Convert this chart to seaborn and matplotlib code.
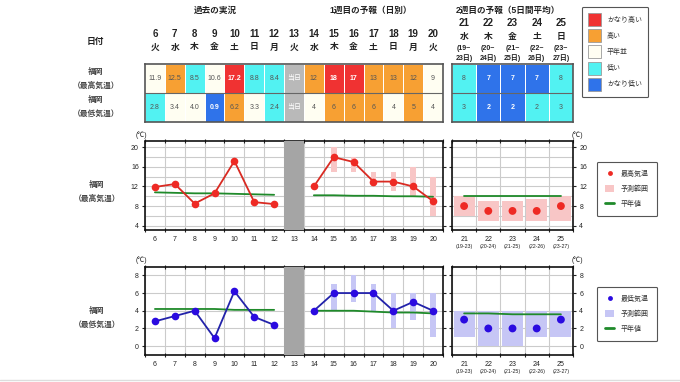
import matplotlib
matplotlib.use("Agg")
import matplotlib.pyplot as plt
import matplotlib.transforms as mtrans
import numpy as np
import pandas as pd
import seaborn as sns
from matplotlib.colors import ListedColormap
from matplotlib.lines import Line2D
from matplotlib.patches import Patch
from matplotlib.ticker import FixedLocator, MultipleLocator

sns.set_theme(style="white")
plt.rcParams["font.family"] = ["Liberation Sans", "Noto Sans CJK JP", "DejaVu Sans"]

# ---- data ----
past_days = [6, 7, 8, 9, 10, 11, 12]
week1_days = [14, 15, 16, 17, 18, 19, 20]
week2_days = [21, 22, 23, 24, 25]
table_days = list(range(6, 21))
weekdays = ["火", "水", "木", "金", "土", "日", "月", "火", "水", "木", "金", "土", "日", "月", "火"]
week2_weekdays = ["水", "木", "金", "土", "日"]
week2_from = [19, 20, 21, 22, 23]
week2_to = [23, 24, 25, 26, 27]

past_hi = [11.9, 12.5, 8.5, 10.6, 17.2, 8.8, 8.4]
week1_hi = [12, 18, 17, 13, 13, 12, 9]
week1_hi_min = [np.nan, 15, 15, 12, 11, 10, 6]
week1_hi_max = [np.nan, 20, 18, 15, 15, 16, 14]
week2_hi = [8, 7, 7, 7, 8]
week2_hi_min = [6, 5, 5, 5, 5]
week2_hi_max = [10, 9, 9, 9.5, 10]
past_hi_norm = [10.8, 10.7, 10.6, 10.6, 10.5, 10.4, 10.3]
week1_hi_norm = [10.2, 10.2, 10.1, 10.1, 10.0, 10.0, 9.9]
week2_hi_norm = [10.0, 10.0, 10.0, 10.0, 10.0]

past_lo = [2.8, 3.4, 4.0, 0.9, 6.2, 3.3, 2.4]
week1_lo = [4, 6, 6, 6, 4, 5, 4]
week1_lo_min = [np.nan, 4, 5, 4, 2, 3, 1]
week1_lo_max = [np.nan, 7, 8, 7, 6, 6, 6]
week2_lo = [3, 2, 2, 2, 3]
week2_lo_min = [1, 0, 0, 1, 1]
week2_lo_max = [4, 4, 4, 4, 4]
past_lo_norm = [4.2, 4.2, 4.2, 4.2, 4.1, 4.1, 4.1]
week1_lo_norm = [4.0, 4.0, 4.0, 3.9, 3.8, 3.8, 3.7]
week2_lo_norm = [3.7, 3.7, 3.6, 3.6, 3.6]

# table classes: 0 かなり高い, 1 高い, 2 平年並, 3 低い, 4 かなり低い, 5 当日
class_names = ["かなり高い", "高い", "平年並", "低い", "かなり低い"]
class_colors = ["#f03232", "#f7a033", "#fffef2", "#52f2f2", "#2f73ea", "#b9b9b9"]
hi_class = [2, 1, 3, 2, 0, 3, 3, 5, 1, 0, 0, 1, 1, 1, 2]
lo_class = [3, 2, 2, 4, 1, 2, 3, 5, 2, 1, 1, 1, 2, 1, 2]
week2_hi_class = [3, 4, 4, 4, 3]
week2_lo_class = [3, 4, 4, 3, 3]

W, H = 680, 382
fig = plt.figure(figsize=(W / 100, H / 100), dpi=100)


def rect(l, t, r, b):
    return [l / W, 1 - b / H, (r - l) / W, (b - t) / H]


def fy(py):
    return 1 - py / H


GREEN = "#1f8a2a"
GRID = "#cbcbcb"

ax_t1 = fig.add_axes(rect(145, 64, 443, 122))
ax_t2 = fig.add_axes(rect(452, 64, 573, 122))
ax_h1 = fig.add_axes(rect(145, 141.5, 443, 230))
ax_h2 = fig.add_axes(rect(452, 141.5, 573, 230))
ax_l1 = fig.add_axes(rect(145, 266.5, 443, 355))
ax_l2 = fig.add_axes(rect(452, 266.5, 573, 355))

# ---- table ----
cmap = ListedColormap(class_colors)
t1_labels = np.array([
    [f"{v:.1f}" for v in past_hi] + ["当日"] + [str(v) for v in week1_hi],
    [f"{v:.1f}" for v in past_lo] + ["当日"] + [str(v) for v in week1_lo],
])
t2_labels = np.array([[str(v) for v in week2_hi], [str(v) for v in week2_lo]])
for ax, codes, labels in [(ax_t1, np.array([hi_class, lo_class]), t1_labels),
                          (ax_t2, np.array([week2_hi_class, week2_lo_class]), t2_labels)]:
    sns.heatmap(codes, ax=ax, cmap=cmap, vmin=-0.5, vmax=5.5, cbar=False,
                annot=labels, fmt="", annot_kws={"fontsize": 5},
                linewidths=0.5, linecolor="white",
                xticklabels=False, yticklabels=False)
    for txt, c in zip(ax.texts, codes.flat):
        if c in (0, 4):
            txt.set_color("white")
            txt.set_fontweight("bold")
        elif c == 5:
            txt.set_color("white")
        else:
            txt.set_color("#555555")
    ax.axhline(1, color="#666666", lw=0.8)
    for s in ax.spines.values():
        s.set_visible(True)
        s.set_color("#555555")
        s.set_linewidth(1.2)

# ---- charts ----
def style_axes(ax, days, xlim, ylim, major, minor, left_labels):
    ax.set_xlim(*xlim)
    ax.set_ylim(*ylim)
    ax.xaxis.set_major_locator(FixedLocator(days))
    ax.set_xticklabels([str(d) for d in days])
    ax.xaxis.set_minor_locator(FixedLocator(np.arange(xlim[0], xlim[1] + 0.1, 1.0)))
    ax.yaxis.set_major_locator(MultipleLocator(major))
    if minor:
        ax.yaxis.set_minor_locator(MultipleLocator(minor))
        ax.grid(True, which="minor", axis="y", color=GRID, lw=0.8)
    ax.grid(True, which="major", axis="y", color=GRID, lw=0.8)
    ax.grid(True, which="minor", axis="x", color=GRID, lw=0.8)
    ax.grid(False, which="major", axis="x")
    ax.tick_params(axis="x", which="major", length=0, pad=4, labelsize=5, colors="#222222")
    ax.tick_params(axis="x", which="minor", length=3, direction="inout",
                   top=True, bottom=True, color="#222222", width=0.8)
    ax.tick_params(axis="y", which="major", length=2.5, direction="out", left=True,
                   right=True, labelleft=left_labels, labelright=not left_labels,
                   labelsize=5, width=0.8, color="#222222", pad=2)
    ax.tick_params(axis="y", which="minor", length=0)
    for s in ax.spines.values():
        s.set_color("#111111")
        s.set_linewidth(1.2)
    ax.set_xlabel("")
    ax.set_ylabel("")


def draw_panel(ax1, ax2, past, norm_p, w1, w1_min, w1_max, norm_1, w2, w2_min, w2_max,
               norm_2, dot, line, band, ylim, major, minor):
    ax1.axvspan(12.5, 13.5, color="#a5a5a5", lw=0, zorder=3)
    rng = pd.DataFrame({"day": week1_days, "lo": w1_min, "hi": w1_max}).dropna()
    ax1.bar(rng["day"], rng["hi"] - rng["lo"], bottom=rng["lo"], width=0.28,
            color=band, lw=0, zorder=2)
    sns.lineplot(x=past_days, y=norm_p, ax=ax1, color=GREEN, lw=1.3, zorder=4)
    sns.lineplot(x=week1_days, y=norm_1, ax=ax1, color=GREEN, lw=1.3, zorder=4)
    for days, vals in [(past_days, past), (week1_days, w1)]:
        sns.lineplot(x=days, y=vals, ax=ax1, color=line, lw=1.3, marker="o",
                     markersize=5.5, markerfacecolor=dot, markeredgewidth=0, zorder=5)
    ax2.bar(week2_days, np.array(w2_max) - np.array(w2_min), bottom=w2_min,
            width=0.86, color=band, lw=0, zorder=2)
    sns.lineplot(x=week2_days, y=norm_2, ax=ax2, color=GREEN, lw=1.3, zorder=4)
    sns.scatterplot(x=week2_days, y=w2, ax=ax2, color=dot, s=32, edgecolor="none", zorder=5)
    style_axes(ax1, table_days, (5.5, 20.5), ylim, major, minor, True)
    style_axes(ax2, week2_days, (20.5, 25.5), ylim, major, minor, False)
    for d, a, b in zip(week2_days, week2_from, week2_to):
        ax2.text(d, -0.19, f"({a}-{b})", transform=ax2.get_xaxis_transform(),
                 ha="center", va="center", fontsize=3.8, color="#222222")


draw_panel(ax_h1, ax_h2, past_hi, past_hi_norm, week1_hi, week1_hi_min, week1_hi_max,
           week1_hi_norm, week2_hi, week2_hi_min, week2_hi_max, week2_hi_norm,
           "#ee2a24", "#d92a22", "#f8c6c6", (3.1, 21.2), 4, 2)
draw_panel(ax_l1, ax_l2, past_lo, past_lo_norm, week1_lo, week1_lo_min, week1_lo_max,
           week1_lo_norm, week2_lo, week2_lo_min, week2_lo_max, week2_lo_norm,
           "#2a0ae0", "#2222aa", "#c6c6f5", (-1, 9), 2, None)

# ---- headers ----
tr = mtrans.blended_transform_factory(ax_h1.transData, fig.transFigure)
tr2 = mtrans.blended_transform_factory(ax_h2.transData, fig.transFigure)
hdr = dict(ha="center", va="center", fontweight="bold", color="#222222")
for d, w in zip(table_days, weekdays):
    fig.text(d, fy(34), str(d), transform=tr, fontsize=7, **hdr)
    fig.text(d, fy(47), w, transform=tr, fontsize=6.3, **hdr)
for d, w, a, b in zip(week2_days, week2_weekdays, week2_from, week2_to):
    fig.text(d, fy(23), str(d), transform=tr2, fontsize=7, **hdr)
    fig.text(d, fy(36), w, transform=tr2, fontsize=6.3, **hdr)
    fig.text(d, fy(48), f"({a}~", transform=tr2, fontsize=5, **hdr)
    fig.text(d, fy(58), f"{b}日)", transform=tr2, fontsize=5, **hdr)

fig.text(215 / W, fy(10), "過去の実況", fontsize=6.2, **hdr)
fig.text(371 / W, fy(10), "1週目の予報（日別）", fontsize=6.2, **hdr)
fig.text(508 / W, fy(10), "2週目の予報（5日間平均）", fontsize=6.2, **hdr)
fig.text(95 / W, fy(41), "日付", fontsize=6.3, **hdr)

lab = dict(ha="center", va="center", fontsize=5.6, fontweight="bold", color="#444444")
fig.text(96 / W, fy(72), "福岡", **lab)
fig.text(96 / W, fy(86), "（最高気温）", **lab)
fig.text(96 / W, fy(100), "福岡", **lab)
fig.text(96 / W, fy(114), "（最低気温）", **lab)
fig.text(97 / W, fy(185), "福岡", **lab)
fig.text(97 / W, fy(199), "（最高気温）", **lab)
fig.text(97 / W, fy(311), "福岡", **lab)
fig.text(97 / W, fy(325), "（最低気温）", **lab)

unit = dict(ha="center", va="center", fontsize=5, color="#222222")
for py in (135, 260):
    fig.text(141 / W, fy(py), "(℃)", **unit)
    fig.text(577 / W, fy(py), "(℃)", **unit)

# ---- legends ----
cls_handles = [Patch(facecolor=c, edgecolor="#9a9a9a", lw=0.6) for c in class_colors[:5]]
leg = fig.legend(cls_handles, class_names, loc="upper left", bbox_to_anchor=(582 / W, fy(7)),
                 borderaxespad=0, fontsize=5, handlelength=1.9, handleheight=2.5,
                 labelspacing=0.45, borderpad=0.9, handletextpad=0.8, fancybox=True,
                 frameon=True, framealpha=1, edgecolor="#555555", labelcolor="#333333")
leg.get_frame().set_linewidth(0.8)

for top, dot, band, name in [(162, "#ee2a24", "#f8c6c6", "最高気温"),
                             (287, "#2a0ae0", "#c6c6f5", "最低気温")]:
    hs = [Line2D([0], [0], marker="o", ls="none", markerfacecolor=dot,
                 markeredgewidth=0, markersize=3.5),
          Patch(facecolor=band, edgecolor="none"),
          Line2D([0], [0], color=GREEN, lw=2)]
    lg = fig.legend(hs, [name, "予測範囲", "平年値"], loc="upper left",
                    bbox_to_anchor=(597 / W, fy(top)), borderaxespad=0, fontsize=5,
                    handlelength=1.3, handleheight=1.2, labelspacing=1.0, borderpad=1.2,
                    handletextpad=0.9, fancybox=True, frameon=True, framealpha=1,
                    edgecolor="#555555", labelcolor="#333333")
    lg.get_frame().set_linewidth(0.8)

fig.add_artist(Line2D([0, 1], [fy(380), fy(380)], color="#dddddd", lw=1))

fig.savefig("out.png", dpi=100)
